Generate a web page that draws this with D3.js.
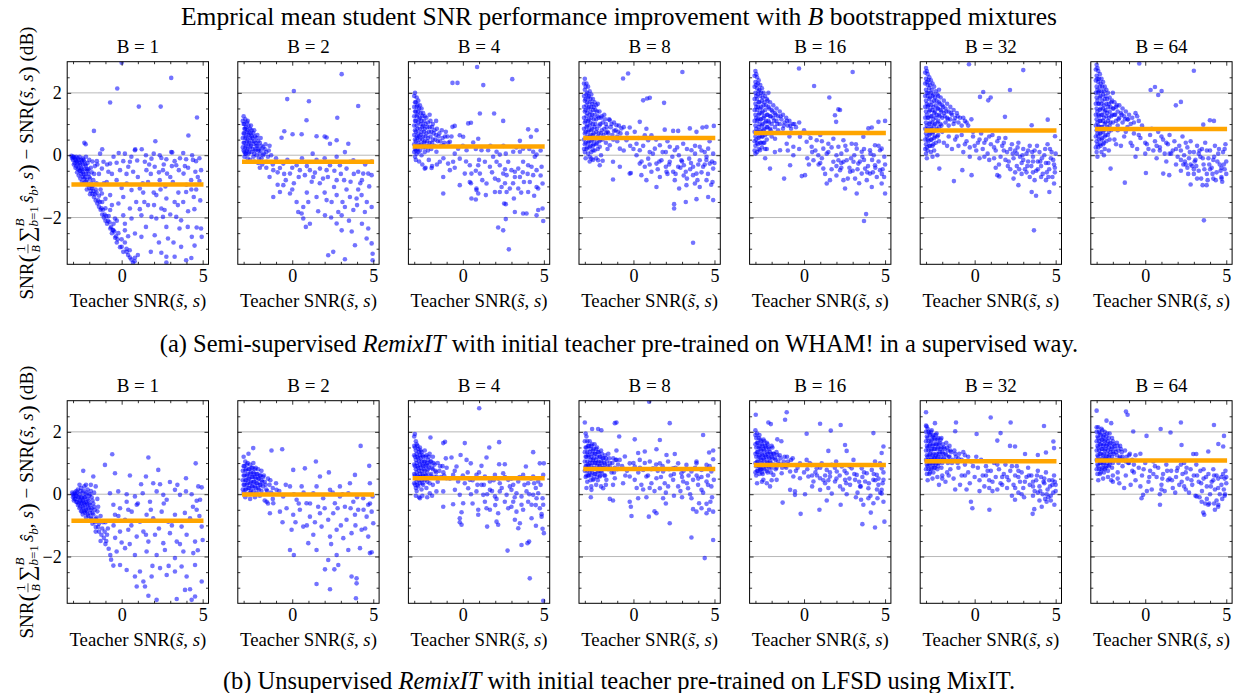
<!DOCTYPE html>
<html>
<head>
<meta charset="utf-8">
<script src="https://cdn.jsdelivr.net/npm/d3@7"></script>
<style>
body { margin: 0; background: #fff; }
svg { display: block; }
text { font-family: "Liberation Serif", "Times New Roman", serif; fill: #000; white-space: pre; }
</style>
</head>
<body>
<div id="chart"></div>
<script>
const bValues = [1, 2, 4, 8, 16, 32, 64];
const meanSemi = [-0.94, -0.21, 0.28, 0.55, 0.71, 0.79, 0.84];
const meanUnsup = [-0.85, -0.01, 0.51, 0.81, 0.94, 1.06, 1.08];
const yMajor = [-2, 0, 2];
const yMinor = [-3, -2.5, -1.5, -1, -0.5, 0.5, 1, 1.5, 2.5];
const xMajor = [0, 5];
const xMinor = [-3, -2, -1, 1, 2, 3, 4];
const lineSpan = [-3.1, 5.05];

// (a) semi-supervised, points as [teacher SNR, improvement]
const semi1 = [[-3.1,-0.02],[-3.0,-0.05],[-3.0,-0.15],[-2.9,-0.1],[-2.9,-0.25],[-2.8,-0.05],[-2.8,-0.2],[-2.8,-0.35],[-2.7,-0.1],[-2.7,-0.3],[-2.7,-0.45],[-2.6,-0.05],[-2.6,-0.25],[-2.6,-0.5],[-2.5,-0.15],[-2.5,-0.4],[-2.5,-0.6],[-2.4,-0.1],[-2.4,-0.3],[-2.4,-0.55],[-2.4,-0.7],[-2.3,-0.2],[-2.3,-0.45],[-2.3,-0.75],[-2.2,-0.05],[-2.2,-0.35],[-2.2,-0.6],[-2.2,-0.85],[-2.1,-0.25],[-2.1,-0.5],[-2.1,-0.95],[-2.0,-0.15],[-2.0,-0.7],[-2.0,-1.05],[-1.9,-0.4],[-1.9,-0.9],[-1.9,-1.15],[-1.8,-0.2],[-1.8,-1.0],[-1.8,-1.25],[-1.7,-0.6],[-1.7,-1.35],[-1.6,-1.1],[-1.6,-1.45],[-1.5,-0.3],[-1.5,-1.55],[-1.4,-1.3],[-1.4,-1.65],[-1.3,-1.75],[-1.2,-1.5],[-1.2,-1.9],[-1.1,-2.0],[-1.0,-1.7],[-1.0,-2.1],[-0.9,-2.2],[-0.8,-1.95],[-0.7,-2.35],[-0.6,-2.5],[-0.5,-2.2],[-0.4,-2.65],[-0.3,-2.8],[-0.2,-2.5],[-0.1,-2.95],[0.1,-3.1],[0.2,-2.8],[0.4,-3.2],[0.6,-3.35],[0.7,-3.45],[0.8,-3.4],[-2.95,-0.3],[-2.75,-0.55],[-2.55,-0.75],[-2.35,-0.9],[-2.15,-1.1],[-1.95,-1.25],[-2.65,-0.65],[-2.45,-0.85],[-1.75,-0.8],[-1.55,-0.9],[-1.65,-0.35],[-2.05,-0.45],
[-3.05,-0.1],[-2.95,-0.05],[-2.85,-0.15],[-2.85,-0.4],[-2.75,-0.2],[-2.65,-0.15],[-2.65,-0.4],[-2.55,-0.3],[-2.55,-0.5],[-2.45,-0.2],[-2.45,-0.45],[-2.35,-0.15],[-2.35,-0.6],[-2.25,-0.3],[-2.25,-0.7],[-2.15,-0.45],[-2.15,-0.8],[-2.05,-0.6],[-2.05,-0.95],[-1.95,-0.75],[-1.85,-0.55],[-1.85,-1.05],[-1.75,-1.15],[-1.65,-1.25],[-1.55,-1.2],[-1.45,-1.45],[-1.35,-1.5],[-1.25,-1.7],[-1.15,-1.75],[-1.05,-1.9],[-0.95,-1.95],[-0.85,-2.1],[-0.75,-2.15],[-0.65,-2.3],[-0.55,-2.4],[-0.45,-2.45],[-0.35,-2.6],[-0.25,-2.7],[0.0,-2.7],[0.3,-3.0],[0.5,-3.05],[-1.3,-1.1],[-1.0,-1.4],[-0.6,-1.6],[-0.3,-2.1],[0.2,-2.2],[0.4,-2.6],[-1.4,-0.6],[-1.1,-0.9],[-0.9,-0.3],
[0.0,2.97],[3.06,2.48],[-0.27,2.14],[-0.71,1.69],[1.06,1.56],[2.41,1.56],[4.65,1.21],[-1.71,0.78],[4.12,0.63],[-2.3,0.4],[-2.22,0.35],[2.08,0.45],[-1.2,0.19],[0.84,0.19],[1.24,0.19],[-0.18,0.07],[3.06,0.1],[3.8,0.07],
[-1.33,0.05],[0.2,0.05],[0.82,0.16],[1.98,0.05],[2.35,0.0],[3.12,0.09],[4.35,0.0],[-1.53,-0.19],[-1.12,-0.21],[-0.71,-0.27],[-0.31,-0.24],[0.1,-0.19],[0.51,-0.21],[0.96,-0.17],[1.43,-0.21],[1.84,-0.11],[2.45,-0.09],[2.76,-0.13],[3.27,-0.19],[3.37,-0.32],[3.98,-0.13],[4.59,-0.19],[4.9,-0.48],[-1.22,-0.43],[-0.82,-0.53],[-0.1,-0.48],[0.41,-0.37],[0.71,-0.53],[1.53,-0.48],[2.04,-0.37],[2.55,-0.48],[2.8,-0.59],[3.53,-0.48],[3.82,-0.59],[4.55,-0.53],[-0.92,-0.86],[-0.31,-0.8],[0.31,-0.91],[1.12,-1.07],[1.63,-0.86],[2.35,-0.8],[3.16,-0.86],[4.29,-0.8],[4.8,-0.83],[-1.22,-1.23],[-0.71,-1.28],[0.1,-1.34],[0.61,-1.12],[1.33,-1.2],[1.98,-1.2],[2.14,-1.28],[2.76,-1.39],[3.27,-1.5],[3.98,-1.18],[4.45,-1.34],[-0.71,-1.76],[-0.2,-1.55],[0.51,-1.71],[1.12,-1.73],[1.63,-1.6],[2.45,-1.71],[2.65,-1.76],[3.47,-1.6],[4.49,-1.73],[-0.41,-2.03],[0.1,-1.93],[0.61,-2.03],[1.22,-1.93],[1.84,-1.98],[2.14,-2.03],[2.55,-1.98],[3.37,-1.98],[3.67,-2.09],[-0.51,-2.41],[0.2,-2.41],[0.82,-2.51],[1.22,-2.62],[2.04,-2.57],[2.76,-2.3],[2.86,-2.67],[3.57,-2.35],[4.08,-2.3],[4.33,-2.62],[4.63,-2.32],[4.9,-2.35],[4.94,-2.62],[0.0,-2.94],[0.31,-3.1],[0.51,-3.28],[0.82,-3.29],[2.45,-3.13],[2.76,-3.26],[3.27,-3.26],[3.67,-2.94],[3.98,-3.37],[4.3,-3.3],[2.76,-3.44],[-0.5,-0.05],[0.6,-0.05],[1.5,0.0],[2.6,-0.3],[3.6,-0.1],[4.1,-0.4],[4.8,-0.1],[-0.6,-0.6],[1.0,-0.7],[1.8,-0.6],[3.0,-0.7],[4.0,-0.95],[0.0,-1.05],[1.4,-1.5],[2.4,-1.1],[3.5,-1.2],[4.85,-1.45],[4.3,-1.1],
[0.3,-0.6],[1.7,-0.3],[2.3,-0.55],[3.1,-0.35],[3.9,-0.35],[4.4,-0.15],[4.7,-0.7],[1.3,-0.9],[2.7,-1.0],[3.8,-1.5],[4.6,-1.1],[0.9,-1.5],[2.0,-1.6],[3.0,-1.9],[4.1,-1.8],[1.5,-2.3],[2.3,-2.8],[3.2,-2.8],[4.5,-2.9],[1.0,-3.2],[1.8,-3.1]];

const semi2 = [[-3.0,1.25],[-3.0,1.0],[-3.0,0.7],[-3.0,0.4],[-3.0,0.15],[-2.9,1.15],[-2.9,0.85],[-2.9,0.55],[-2.9,0.25],[-2.9,0.05],[-2.8,1.05],[-2.8,0.75],[-2.8,0.45],[-2.8,0.15],[-2.7,0.95],[-2.7,0.65],[-2.7,0.35],[-2.7,0.05],[-2.6,0.85],[-2.6,0.55],[-2.6,0.25],[-2.5,0.8],[-2.5,0.45],[-2.5,0.1],[-2.4,0.7],[-2.4,0.35],[-2.4,-0.05],[-2.3,0.6],[-2.3,0.2],[-2.2,0.55],[-2.2,0.3],[-2.2,0.0],[-2.1,0.45],[-2.1,0.15],[-2.0,0.4],[-2.0,0.05],[-1.9,0.3],[-1.9,-0.1],[-1.8,0.25],[-1.8,0.0],[-1.7,0.2],[-1.6,0.1],[-1.5,-0.05],[-1.4,0.3],[-1.3,0.0],[-2.95,-0.05],[-2.75,-0.1],[-2.6,-0.15],[-2.35,-0.2],[-2.1,-0.25],[-1.85,-0.3],[-2.5,0.6],[-2.65,0.7],[-2.85,0.6],[-2.95,0.85],
[-3.05,1.1],[-3.05,0.55],[-3.05,0.25],[-2.95,1.0],[-2.95,0.7],[-2.95,0.4],[-2.95,0.1],[-2.85,0.9],[-2.85,0.3],[-2.85,0.05],[-2.75,1.1],[-2.75,0.8],[-2.75,0.5],[-2.75,0.2],[-2.65,0.4],[-2.65,0.1],[-2.55,0.95],[-2.55,0.7],[-2.55,0.3],[-2.45,0.55],[-2.45,0.2],[-2.35,0.8],[-2.35,0.45],[-2.35,0.05],[-2.25,0.4],[-2.25,0.15],[-2.15,0.65],[-2.15,0.3],[-2.05,0.2],[-2.05,-0.1],[-1.95,0.55],[-1.95,0.15],[-1.75,0.05],[-1.65,0.35],[-1.45,0.15],[-1.2,-0.3],[-1.6,-0.4],[-2.0,-0.4],
[0.1,2.06],[-0.31,1.8],[1.03,1.73],[3.05,2.6],[4.07,1.58],[2.78,1.2],[0.88,1.12],[-0.49,0.77],[0.58,0.67],[0.02,0.67],[1.5,0.61],[2.0,0.6],[2.12,0.57],[2.74,0.48],[3.46,0.37],[-0.66,0.56],[1.26,0.05],[2.33,0.37],[3.25,0.1],
[-1.58,-0.21],[-1.17,-0.48],[-0.76,-0.41],[-0.55,-0.27],[-0.14,-0.59],[0.27,-0.32],[0.47,-0.48],[0.78,-0.64],[1.09,-0.48],[1.4,-0.56],[1.71,-0.43],[2.12,-0.48],[2.33,-0.32],[2.74,-0.8],[2.94,-0.32],[3.35,-0.43],[3.56,-0.21],[4.07,-0.53],[4.38,-0.59],[4.69,-0.59],[4.9,-0.64],[3.77,-0.16],[2.74,-0.05],[-1.0,-0.1],[-0.3,-0.15],[0.6,-0.1],[1.5,-0.15],[2.0,-0.1],[3.0,-0.6],[4.5,-0.3],[4.9,-0.2],[-1.4,-0.7],[-0.4,-0.8],[0.1,-0.9],[1.2,-0.85],[1.9,-0.75],[3.6,-0.85],[4.2,-0.9],
[-0.9,-0.55],[-0.5,-0.6],[0.0,-0.4],[0.4,-0.7],[0.9,-0.35],[1.3,-0.7],[1.7,-0.9],[2.2,-0.7],[2.6,-0.5],[3.2,-0.8],[3.8,-0.6],[4.3,-0.8],[4.75,-1.0],[-0.9,-0.95],[0.0,-1.1],[0.9,-1.2],[2.0,-1.2],[3.1,-1.5],[4.0,-1.6],[4.6,-1.5],[1.6,-1.8],[2.4,-2.0],[3.5,-2.1],[4.3,-2.2],
[-1.17,-1.34],[-0.76,-1.18],[-0.55,-0.96],[-0.14,-1.23],[0.27,-1.5],[0.37,-1.82],[0.58,-1.87],[0.68,-1.66],[0.99,-1.5],[1.5,-1.34],[2.12,-1.44],[2.43,-1.5],[2.74,-1.28],[2.84,-1.82],[3.05,-1.93],[3.25,-1.66],[3.56,-1.34],[3.77,-1.76],[3.97,-1.39],[4.07,-1.1],[4.28,-1.28],[4.48,-1.82],[4.9,-1.66],[3.35,-1.1],[2.58,-1.02],
[0.68,-2.03],[0.84,-2.3],[1.09,-2.2],[2.02,-1.93],[2.22,-3.21],[2.53,-3.1],[2.74,-2.19],[3.05,-2.41],[3.25,-3.34],[3.87,-2.89],[4.59,-2.67],[4.69,-2.35],[4.9,-2.83],[4.96,-3.16],[4.96,-3.37],[3.67,-2.45]];

const semi3 = [[-2.95,2.0],[-2.95,1.7],[-2.95,1.4],[-2.95,1.1],[-2.95,0.8],[-2.95,0.5],[-2.95,0.2],[-2.95,-0.05],[-2.85,1.85],[-2.85,1.55],[-2.85,1.25],[-2.85,0.95],[-2.85,0.6],[-2.85,0.3],[-2.85,0.05],[-2.75,1.75],[-2.75,1.4],[-2.75,1.05],[-2.75,0.7],[-2.75,0.4],[-2.75,0.1],[-2.65,1.6],[-2.65,1.2],[-2.65,0.85],[-2.65,0.5],[-2.65,0.15],[-2.55,1.5],[-2.55,1.1],[-2.55,0.75],[-2.55,0.35],[-2.55,0.0],[-2.45,1.35],[-2.45,0.95],[-2.45,0.6],[-2.45,0.25],[-2.35,1.25],[-2.35,0.85],[-2.35,0.45],[-2.35,0.1],[-2.25,1.2],[-2.25,0.7],[-2.25,0.3],[-2.15,1.05],[-2.15,0.55],[-2.15,0.15],[-2.05,1.3],[-2.05,0.9],[-2.05,0.4],[-1.95,0.75],[-1.95,0.2],[-1.85,1.0],[-1.85,0.5],[-1.75,0.8],[-1.75,0.3],[-1.65,0.65],[-1.65,1.1],[-1.55,0.45],[-1.45,0.7],[-1.35,0.3],[-1.25,0.55],[-1.15,0.4],[-1.05,0.75],[-0.95,0.6],[-2.9,-0.15],[-2.7,-0.2],[-2.5,-0.3],[-2.3,-0.4],[-2.1,-0.15],[-1.9,-0.35],
[-3.0,1.9],[-3.0,1.55],[-3.0,1.25],[-3.0,0.95],[-3.0,0.65],[-3.0,0.35],[-3.0,0.1],[-2.9,1.7],[-2.9,1.4],[-2.9,1.1],[-2.9,0.75],[-2.9,0.45],[-2.9,0.15],[-2.8,1.6],[-2.8,1.3],[-2.8,0.85],[-2.8,0.55],[-2.8,0.2],[-2.7,1.5],[-2.7,1.15],[-2.7,0.6],[-2.7,0.3],[-2.6,1.35],[-2.6,1.0],[-2.6,0.65],[-2.6,0.3],[-2.5,1.25],[-2.5,0.9],[-2.5,0.5],[-2.4,1.1],[-2.4,0.75],[-2.4,0.4],[-2.3,1.0],[-2.3,0.6],[-2.3,0.25],[-2.2,0.9],[-2.2,0.45],[-2.1,0.75],[-2.1,0.3],[-2.0,1.1],[-2.0,0.6],[-1.9,0.9],[-1.9,0.4],[-1.8,0.7],[-1.7,0.5],[-1.6,0.85],[-1.5,0.6],[-1.4,0.45],[-1.3,0.8],[-1.1,0.6],[-0.9,0.4],[-0.7,0.6],
[0.88,2.83],[-0.64,2.32],[-0.33,2.32],[1.26,2.25],[3.05,2.44],[1.05,1.34],[1.93,1.34],[2.49,1.1],[-0.64,0.91],[-0.5,0.94],[0.33,1.02],[0.5,1.04],[4.03,0.83],[4.2,0.59],[4.55,0.8],[3.52,0.46],[-0.19,0.64],[0.02,0.59],
[-1.63,0.11],[-1.21,0.32],[-0.8,0.43],[-0.29,0.21],[0.23,0.16],[0.64,0.41],[0.95,0.53],[1.15,0.16],[1.56,0.16],[2.08,0.11],[2.28,0.02],[2.65,0.05],[3.11,0.11],[3.52,0.11],[3.72,0.21],[4.34,0.11],[4.55,0.02],
[-2.35,-0.43],[-1.93,-0.41],[-1.42,-0.21],[-0.91,-0.27],[-0.8,-0.48],[-0.6,-0.21],[-0.19,-0.11],[0.12,-0.59],[0.43,-0.32],[0.53,-0.59],[0.95,-0.32],[1.05,-0.59],[1.36,-0.21],[1.67,-0.37],[1.87,-0.05],[2.08,-0.21],[2.28,-0.32],[2.49,-0.59],[2.8,-0.21],[3.0,-0.48],[3.21,-0.53],[3.42,-0.43],[3.72,-0.21],[4.03,-0.32],[4.24,-0.37],[4.44,-0.05],[4.55,-0.48],[4.86,-0.37],
[-1.6,-0.3],[-1.2,-0.1],[-0.5,-0.4],[0.2,-0.2],[0.8,-0.5],[1.2,-0.8],[1.8,-0.55],[2.2,-0.8],[2.6,-0.9],[3.1,-0.9],[3.6,-1.2],[4.0,-0.6],[4.4,-1.3],[4.8,-0.65],[0.0,0.3],[0.8,0.2],[1.7,0.3],[2.5,0.3],[3.3,0.25],[4.1,0.2],[4.8,0.15],[-0.5,0.05],[1.0,-0.15],[2.6,-0.45],[3.7,-0.55],
[-1.21,-0.7],[-0.19,-0.96],[0.43,-0.86],[0.84,-1.07],[0.5,-0.9],[1.46,-0.91],[1.98,-0.75],[2.39,-1.02],[2.7,-0.64],[2.9,-1.07],[3.21,-0.7],[3.52,-0.7],[3.77,-0.86],[4.13,-0.86],[4.55,-1.02],[4.92,-0.91],[4.34,-0.64],
[-1.21,-1.23],[0.84,-1.12],[0.95,-1.23],[1.42,-1.28],[1.98,-1.18],[2.28,-1.18],[2.7,-1.18],[3.15,-1.39],[0.53,-1.39],[0.8,-1.42],[2.55,-1.55],[2.65,-1.57],[3.42,-1.07],[4.03,-1.18],[4.65,-1.07],[3.21,-1.82],[3.72,-1.87],[3.93,-1.87],[2.65,-2.05],[4.65,-1.76],[4.92,-1.71],[4.55,-1.93],[4.96,-2.11],[2.18,-2.32],[2.49,-2.41],[2.84,-3.02]];

const semi4 = [[-3.0,2.45],[-3.0,2.1],[-3.0,1.75],[-3.0,1.4],[-3.0,1.05],[-3.0,0.7],[-3.0,0.35],[-3.0,0.1],[-2.9,2.3],[-2.9,1.95],[-2.9,1.6],[-2.9,1.25],[-2.9,0.9],[-2.9,0.55],[-2.9,0.2],[-2.8,2.2],[-2.8,1.85],[-2.8,1.5],[-2.8,1.1],[-2.8,0.75],[-2.8,0.4],[-2.8,0.05],[-2.7,2.05],[-2.7,1.7],[-2.7,1.3],[-2.7,0.95],[-2.7,0.6],[-2.7,0.25],[-2.6,1.95],[-2.6,1.55],[-2.6,1.2],[-2.6,0.8],[-2.6,0.45],[-2.6,0.1],[-2.5,1.8],[-2.5,1.45],[-2.5,1.0],[-2.5,0.65],[-2.5,0.3],[-2.4,1.7],[-2.4,1.3],[-2.4,0.9],[-2.4,0.5],[-2.4,0.15],[-2.3,1.6],[-2.3,1.15],[-2.3,0.75],[-2.3,0.35],[-2.2,1.65],[-2.2,1.25],[-2.2,0.6],[-2.2,0.2],[-2.1,1.4],[-2.1,0.95],[-2.1,0.45],[-2.0,1.2],[-2.0,0.7],[-1.9,1.05],[-1.9,0.5],[-1.8,1.3],[-1.8,0.85],[-1.7,1.0],[-1.7,0.4],[-1.6,0.75],[-1.5,1.15],[-1.5,0.55],[-1.4,0.9],[-1.3,0.65],[-1.2,1.05],[-1.1,0.8],[-1.0,0.6],[-0.9,0.95],[-0.8,0.7],[-2.95,-0.1],[-2.7,-0.05],[-2.5,-0.15],[-2.3,-0.1],
[-3.05,2.3],[-3.05,1.9],[-3.05,1.55],[-3.05,1.2],[-3.05,0.85],[-3.05,0.5],[-3.05,0.2],[-2.95,2.2],[-2.95,1.8],[-2.95,1.45],[-2.95,1.1],[-2.95,0.75],[-2.95,0.4],[-2.85,2.0],[-2.85,1.7],[-2.85,1.35],[-2.85,0.95],[-2.85,0.6],[-2.85,0.25],[-2.75,1.9],[-2.75,1.55],[-2.75,1.15],[-2.75,0.8],[-2.75,0.45],[-2.65,1.8],[-2.65,1.4],[-2.65,1.05],[-2.65,0.65],[-2.65,0.3],[-2.55,1.65],[-2.55,1.3],[-2.55,0.85],[-2.55,0.5],[-2.45,1.55],[-2.45,1.15],[-2.45,0.7],[-2.45,0.35],[-2.35,1.45],[-2.35,1.0],[-2.35,0.55],[-2.25,1.4],[-2.25,0.85],[-2.25,0.4],[-2.15,1.2],[-2.15,0.7],[-2.05,1.0],[-2.05,0.5],[-1.95,1.25],[-1.95,0.8],[-1.85,0.65],[-1.75,1.15],[-1.65,0.9],[-1.55,0.7],[-1.35,1.0],[-1.25,0.5],[-0.95,0.75],[-0.6,0.9],[-0.4,0.7],
[-0.64,2.46],[-0.33,2.62],[3.02,2.67],[0.6,1.76],[0.84,1.82],[1.01,1.84],[1.89,1.68],[0.39,1.07],[1.93,0.82],[2.45,0.78],[2.76,0.78],[3.48,0.86],[4.26,0.89],[4.51,0.91],[4.96,0.94],[3.89,0.75],
[-2.49,0.16],[-2.08,0.27],[-1.46,0.32],[-0.84,0.21],[-0.43,0.48],[0.19,0.37],[0.39,0.16],[0.91,0.48],[1.32,0.21],[1.63,0.32],[2.24,0.27],[2.55,0.16],[3.07,0.37],[3.58,0.16],[4.09,0.27],[4.61,0.21],[4.92,0.05],[-1.46,1.12],[-1.05,0.96],[-0.74,0.86],[-0.23,0.89],[0.08,0.75],[0.7,0.64],[1.11,0.64],[-1.2,0.78],[-1.7,0.72],
[-2.59,-0.11],[-2.08,-0.32],[-1.9,-0.18],[-1.26,-0.21],[-0.84,-0.37],[-0.23,-0.59],[0.19,0.0],[0.39,-0.27],[0.7,-0.37],[0.91,-0.11],[1.11,-0.53],[1.42,-0.27],[1.73,-0.16],[2.0,-0.37],[2.24,-0.21],[2.45,-0.53],[2.76,-0.37],[2.96,-0.16],[3.11,-0.32],[3.23,-0.53],[3.44,-0.11],[3.68,-0.37],[3.89,-0.59],[4.09,-0.16],[4.3,-0.37],[4.51,-0.05],[4.71,-0.27],[4.92,-0.43],[0.49,-0.64],[0.8,-0.8],[1.42,-1.02],[-1.26,-0.78],[-0.16,-0.57],[1.63,-0.7],[2.04,-0.53],[2.55,-0.8],[2.82,-1.07],[3.27,-0.96],[3.68,-0.64],[3.79,-0.91],[4.09,-1.02],[4.51,-0.8],[4.88,-0.86],[4.92,-1.44],[4.61,-1.34],[3.89,-1.41],[3.23,-1.5],[2.51,-1.57],[2.51,-1.71],[3.68,-2.81],[-2.7,-0.2],[-2.18,-0.16],
[0.5,-0.2],[1.0,-0.3],[1.5,-0.45],[2.1,-0.6],[2.6,-0.6],[2.9,-0.4],[3.3,-0.75],[3.55,-0.25],[3.95,-0.8],[4.2,-0.55],[4.4,-0.3],[4.6,-0.6],[4.8,-0.95],[5.0,-0.25],[1.2,0.05],[2.0,0.1],[2.8,0.0],[3.8,0.05],[4.4,0.1],[0.0,0.2],[-0.6,0.15]];
const semi4Band = [[0.3,0.55],[0.6,0.3],[1.0,0.1],[1.4,0.5],[1.8,0.1],[2.1,0.45],[2.4,-0.05],[2.7,0.25],[3.0,-0.2],[3.3,0.2],[3.5,-0.45],[3.8,0.3],[4.0,-0.3],[4.2,0.15],[4.5,-0.15],[4.7,0.45],[4.85,-0.2],[2.2,-0.3],[3.1,-0.65],[1.6,-0.2],[-0.2,0.3],[-1.0,0.45],[-1.6,0.2],[-2.0,0.0],[0.8,0.85]];

const semi5 = [[-3.0,2.7],[-3.0,2.35],[-3.0,2.0],[-3.0,1.65],[-3.0,1.3],[-3.0,0.95],[-3.0,0.6],[-3.0,0.3],[-3.0,0.05],[-2.9,2.5],[-2.9,2.15],[-2.9,1.8],[-2.9,1.45],[-2.9,1.1],[-2.9,0.75],[-2.9,0.4],[-2.9,0.1],[-2.8,2.4],[-2.8,2.05],[-2.8,1.7],[-2.8,1.3],[-2.8,0.9],[-2.8,0.55],[-2.8,0.2],[-2.7,2.25],[-2.7,1.9],[-2.7,1.5],[-2.7,1.15],[-2.7,0.8],[-2.7,0.4],[-2.6,2.15],[-2.6,1.75],[-2.6,1.35],[-2.6,0.95],[-2.6,0.6],[-2.6,0.25],[-2.5,2.0],[-2.5,1.6],[-2.5,1.2],[-2.5,0.8],[-2.5,0.4],[-2.4,1.9],[-2.4,1.45],[-2.4,1.05],[-2.4,0.65],[-2.4,0.2],[-2.3,1.8],[-2.3,1.3],[-2.3,0.9],[-2.3,0.5],[-2.2,2.0],[-2.2,1.55],[-2.2,1.1],[-2.2,0.7],[-2.1,1.7],[-2.1,1.25],[-2.1,0.85],[-2.0,1.45],[-2.0,1.0],[-2.0,0.6],[-1.9,1.6],[-1.9,1.2],[-1.8,1.35],[-1.8,0.9],[-1.7,1.5],[-1.7,1.1],[-1.6,1.25],[-1.6,0.8],[-1.5,1.4],[-1.5,1.0],[-1.4,1.15],[-1.3,1.3],[-1.3,0.85],[-1.2,1.05],[-1.1,1.2],[-1.0,0.95],[-0.9,1.1],[-0.8,0.85],[-0.7,1.0],[-0.5,0.9],[-0.3,1.05],
[-3.05,2.55],[-3.05,2.2],[-3.05,1.8],[-3.05,1.45],[-3.05,1.1],[-3.05,0.75],[-3.05,0.45],[-3.05,0.15],[-2.95,2.6],[-2.95,2.25],[-2.95,1.9],[-2.95,1.55],[-2.95,1.2],[-2.95,0.85],[-2.95,0.5],[-2.85,2.3],[-2.85,1.95],[-2.85,1.55],[-2.85,1.15],[-2.85,0.75],[-2.85,0.35],[-2.75,2.1],[-2.75,1.7],[-2.75,1.35],[-2.75,1.0],[-2.75,0.6],[-2.65,2.0],[-2.65,1.55],[-2.65,1.15],[-2.65,0.75],[-2.65,0.4],[-2.55,1.85],[-2.55,1.4],[-2.55,1.0],[-2.55,0.6],[-2.45,1.7],[-2.45,1.25],[-2.45,0.85],[-2.45,0.4],[-2.35,1.6],[-2.35,1.1],[-2.35,0.7],[-2.25,1.75],[-2.25,1.3],[-2.25,0.9],[-2.15,1.5],[-2.15,1.05],[-2.05,1.25],[-2.05,0.8],[-1.95,1.4],[-1.85,1.1],[-1.75,1.3],[-1.65,1.0],[-1.45,1.25],[-1.25,0.95],[-1.05,1.1],[-0.85,0.95],[-0.6,1.0],
[-0.31,2.78],[0.62,2.22],[3.0,2.67],[1.56,1.85],[2.12,1.47],[2.22,1.45],[1.98,1.07],[1.91,1.28],[3.97,0.86],[4.18,0.89],[4.59,1.07],[5.0,1.1],[3.66,0.59],[4.79,0.21],
[-2.72,0.16],[-2.3,0.2],[-1.79,0.53],[-1.48,0.16],[-1.07,0.37],[-0.66,0.27],[-0.25,0.59],[0.16,0.43],[0.47,0.27],[0.78,0.48],[1.19,0.21],[1.5,0.37],[1.81,0.53],[2.12,0.27],[2.43,0.48],[2.63,0.16],[2.94,0.37],[3.25,0.21],[3.56,0.11],[4.07,0.16],[4.38,0.32],[4.69,0.16],[0.3,0.7],[1.0,0.65],[-0.9,0.6],
[-2.1,-0.43],[-0.86,-0.32],[-0.66,0.0],[-0.14,-0.67],[0.06,-0.64],[0.58,-0.16],[0.88,0.0],[1.19,-0.43],[1.4,-0.91],[1.6,-0.8],[1.81,-0.21],[2.12,-0.16],[2.43,-0.21],[2.43,-0.8],[2.63,-0.16],[2.84,-0.53],[3.05,-0.21],[3.15,-0.75],[3.25,-1.23],[3.35,-0.27],[3.56,-0.59],[3.77,-0.43],[3.87,-0.8],[4.07,-0.59],[4.18,-1.02],[4.38,-0.32],[4.49,-0.7],[4.69,-0.48],[4.79,-0.91],[4.94,-0.7],[5.0,-1.23],[2.53,-1.07],[-1.23,-0.75],[3.83,-1.89],[3.7,-2.11],[2.8,-0.4],[2.22,-0.48],[1.0,-0.25],[0.3,-0.3],[3.6,-0.05],[4.2,-0.15],
[0.2,-0.1],[0.9,-0.3],[1.3,-0.6],[1.7,-0.45],[2.0,-0.65],[2.3,-0.4],[2.7,-0.75],[3.0,-0.5],[3.4,-0.9],[3.7,-0.15],[3.95,-0.35],[4.25,-0.55],[4.6,-0.2],[4.85,-0.45],[3.3,-0.45],[1.5,0.1],[2.3,0.05],[3.1,0.0],[4.3,0.0],[4.95,-0.05],[0.5,0.1]];
const semi5Band = [[0.0,0.8],[0.4,0.55],[0.7,0.15],[1.1,0.45],[1.4,0.05],[1.7,0.25],[2.0,0.0],[2.3,-0.25],[2.55,0.3],[2.9,-0.1],[3.2,0.35],[3.45,-0.2],[3.7,0.2],[3.9,-0.55],[4.1,0.05],[4.4,-0.4],[4.6,0.3],[4.8,-0.6],[5.0,-0.3],[2.0,-0.35],[1.1,-0.1],[-0.3,0.2],[-1.0,0.15],[-1.8,0.1],[-2.4,-0.1]];

const semi6 = [[-3.0,2.8],[-3.0,2.45],[-3.0,2.1],[-3.0,1.75],[-3.0,1.4],[-3.0,1.05],[-3.0,0.7],[-3.0,0.35],[-3.0,0.05],[-2.9,2.6],[-2.9,2.25],[-2.9,1.9],[-2.9,1.55],[-2.9,1.2],[-2.9,0.85],[-2.9,0.5],[-2.9,0.15],[-2.8,2.5],[-2.8,2.15],[-2.8,1.8],[-2.8,1.4],[-2.8,1.0],[-2.8,0.65],[-2.8,0.3],[-2.7,2.4],[-2.7,2.0],[-2.7,1.6],[-2.7,1.25],[-2.7,0.9],[-2.7,0.5],[-2.7,0.1],[-2.6,2.3],[-2.6,1.9],[-2.6,1.45],[-2.6,1.05],[-2.6,0.7],[-2.6,0.3],[-2.5,2.2],[-2.5,1.75],[-2.5,1.35],[-2.5,0.95],[-2.5,0.55],[-2.5,0.15],[-2.4,2.05],[-2.4,1.6],[-2.4,1.2],[-2.4,0.8],[-2.4,0.4],[-2.3,1.95],[-2.3,1.5],[-2.3,1.05],[-2.3,0.6],[-2.2,2.1],[-2.2,1.7],[-2.2,1.3],[-2.2,0.9],[-2.2,0.45],[-2.1,1.85],[-2.1,1.45],[-2.1,1.0],[-2.0,1.6],[-2.0,1.2],[-2.0,0.75],[-1.9,1.75],[-1.9,1.35],[-1.8,1.5],[-1.8,1.05],[-1.7,1.65],[-1.7,1.2],[-1.6,1.4],[-1.6,0.95],[-1.5,1.55],[-1.5,1.15],[-1.4,1.3],[-1.3,1.45],[-1.3,1.0],[-1.2,1.2],[-1.1,1.35],[-1.0,1.05],[-0.9,1.2],[-0.8,0.95],[-0.6,1.1],[-0.4,0.95],[-0.2,1.15],[-2.95,-0.1],[-2.6,-0.05],[-2.3,0.0],
[-3.05,2.65],[-3.05,2.3],[-3.05,1.9],[-3.05,1.55],[-3.05,1.2],[-3.05,0.85],[-3.05,0.5],[-3.05,0.2],[-2.95,2.7],[-2.95,2.35],[-2.95,2.0],[-2.95,1.65],[-2.95,1.3],[-2.95,0.95],[-2.95,0.6],[-2.95,0.25],[-2.85,2.4],[-2.85,2.0],[-2.85,1.6],[-2.85,1.2],[-2.85,0.8],[-2.85,0.45],[-2.75,2.25],[-2.75,1.85],[-2.75,1.45],[-2.75,1.05],[-2.75,0.7],[-2.75,0.3],[-2.65,2.1],[-2.65,1.7],[-2.65,1.25],[-2.65,0.85],[-2.65,0.5],[-2.55,1.95],[-2.55,1.55],[-2.55,1.15],[-2.55,0.75],[-2.55,0.35],[-2.45,1.85],[-2.45,1.4],[-2.45,1.0],[-2.45,0.6],[-2.35,1.75],[-2.35,1.3],[-2.35,0.85],[-2.25,1.9],[-2.25,1.5],[-2.25,1.1],[-2.25,0.65],[-2.15,1.65],[-2.15,1.25],[-2.05,1.4],[-2.05,0.95],[-1.95,1.55],[-1.85,1.25],[-1.75,1.4],[-1.65,1.15],[-1.45,1.35],[-1.25,1.1],[-1.05,1.25],[-0.7,1.2],[-0.5,1.05],
[-0.35,2.92],[3.0,2.73],[0.53,2.03],[0.33,1.87],[2.18,2.09],[0.84,1.76],[0.99,1.85],[1.87,1.23],[3.52,0.96],[4.51,1.14],[4.96,0.61],
[-2.18,-0.43],[-0.76,-0.48],[-1.28,-0.83],[-0.19,-0.64],[1.4,-0.64],[1.52,-0.68],[2.7,-0.96],[3.52,-1.18],[3.79,-1.3],[4.61,-1.18],[4.9,-0.91],[3.66,-2.41],
[-1.9,0.4],[-1.6,0.6],[-1.4,0.2],[-1.2,0.5],[-1.0,0.3],[-0.8,0.65],[-0.7,0.1],[-0.5,0.45],[-0.3,0.25],[-0.1,0.6],[0.1,0.15],[0.2,0.4],[0.4,0.7],[0.5,0.2],[0.7,0.5],[0.8,0.05],[1.0,0.35],[1.1,0.65],[1.3,0.15],[1.4,0.45],[1.6,-0.05],[1.7,0.3],[1.9,0.55],[2.0,0.1],[2.1,-0.2],[2.3,0.35],[2.4,-0.1],[2.5,0.15],[2.6,-0.35],[2.7,0.4],[2.8,-0.05],[2.9,-0.25],[3.0,0.2],[3.1,-0.45],[3.2,0.05],[3.3,-0.2],[3.4,0.3],[3.5,-0.35],[3.6,-0.05],[3.7,0.15],[3.8,-0.5],[3.9,-0.2],[4.0,0.1],[4.1,-0.35],[4.2,-0.6],[4.3,0.0],[4.4,-0.25],[4.5,0.35],[4.6,-0.45],[4.7,-0.1],[4.8,-0.7],[4.9,-0.3],[5.0,0.05],[4.95,-0.55],[3.4,-0.7],[2.9,-0.6],[2.2,-0.45],[1.5,-0.3],[0.9,-0.15],[0.3,-0.1],[-0.3,-0.05],[4.4,-0.8],[3.7,-0.8],[2.4,-0.75],
[0.0,0.3],[0.6,0.4],[1.2,0.25],[1.8,0.15],[2.2,0.2],[2.6,0.05],[3.0,-0.15],[3.3,0.15],[3.6,-0.2],[3.9,-0.45],[4.15,-0.1],[4.45,-0.55],[4.65,0.2],[4.85,-0.15],[2.75,-0.45],[3.2,-0.55],[1.9,-0.15],[4.1,-0.7],[4.55,-0.7]];
const semi6Band = [[-1.7,0.3],[-1.1,0.6],[-0.6,0.35],[-0.1,0.75],[0.3,0.5],[0.6,-0.05],[0.9,0.6],[1.2,-0.1],[1.5,0.55],[1.8,0.4],[2.05,-0.35],[2.35,0.05],[2.65,0.25],[2.95,0.0],[3.25,-0.35],[3.55,0.1],[3.85,0.3],[4.05,-0.2],[4.35,0.2],[4.55,-0.25],[4.75,0.1],[4.95,-0.4],[3.6,-0.55],[2.5,-0.55],[1.3,-0.4]];

const semi7 = [[-3.0,2.9],[-3.0,2.55],[-3.0,2.2],[-3.0,1.85],[-3.0,1.5],[-3.0,1.15],[-3.0,0.8],[-3.0,0.45],[-3.0,0.1],[-2.9,2.7],[-2.9,2.35],[-2.9,2.0],[-2.9,1.65],[-2.9,1.3],[-2.9,0.95],[-2.9,0.6],[-2.9,0.25],[-2.8,2.6],[-2.8,2.2],[-2.8,1.85],[-2.8,1.45],[-2.8,1.1],[-2.8,0.7],[-2.8,0.35],[-2.7,2.45],[-2.7,2.05],[-2.7,1.65],[-2.7,1.3],[-2.7,0.9],[-2.7,0.5],[-2.7,0.1],[-2.6,2.35],[-2.6,1.95],[-2.6,1.5],[-2.6,1.1],[-2.6,0.75],[-2.6,0.35],[-2.5,2.2],[-2.5,1.8],[-2.5,1.4],[-2.5,1.0],[-2.5,0.6],[-2.5,0.2],[-2.4,2.1],[-2.4,1.65],[-2.4,1.25],[-2.4,0.85],[-2.4,0.45],[-2.3,2.0],[-2.3,1.55],[-2.3,1.1],[-2.3,0.65],[-2.2,1.85],[-2.2,1.4],[-2.2,0.95],[-2.2,0.5],[-2.1,1.7],[-2.1,1.25],[-2.1,0.8],[-2.0,2.0],[-2.0,1.5],[-2.0,1.05],[-1.9,1.7],[-1.9,1.3],[-1.8,1.55],[-1.8,1.1],[-1.7,1.4],[-1.7,0.95],[-1.6,1.6],[-1.6,1.2],[-1.5,1.35],[-1.4,1.5],[-1.4,1.05],[-1.3,1.25],[-1.2,1.4],[-1.1,1.15],[-1.0,1.3],[-0.9,1.0],[-0.8,1.2],[-0.6,1.35],[-0.4,1.1],[-0.2,0.95],[-2.95,-0.05],[-2.55,0.0],[-2.25,0.15],
[-3.05,2.75],[-3.05,2.4],[-3.05,2.0],[-3.05,1.65],[-3.05,1.3],[-3.05,0.95],[-3.05,0.6],[-3.05,0.25],[-2.95,2.8],[-2.95,2.45],[-2.95,2.1],[-2.95,1.75],[-2.95,1.4],[-2.95,1.05],[-2.95,0.7],[-2.95,0.35],[-2.85,2.45],[-2.85,2.05],[-2.85,1.65],[-2.85,1.25],[-2.85,0.9],[-2.85,0.5],[-2.75,2.3],[-2.75,1.9],[-2.75,1.5],[-2.75,1.1],[-2.75,0.7],[-2.75,0.3],[-2.65,2.2],[-2.65,1.75],[-2.65,1.3],[-2.65,0.9],[-2.65,0.55],[-2.55,2.05],[-2.55,1.6],[-2.55,1.2],[-2.55,0.8],[-2.55,0.4],[-2.45,1.9],[-2.45,1.45],[-2.45,1.05],[-2.45,0.65],[-2.35,1.8],[-2.35,1.35],[-2.35,0.9],[-2.25,1.65],[-2.25,1.2],[-2.25,0.75],[-2.15,1.55],[-2.15,1.05],[-2.05,1.75],[-2.05,1.3],[-1.95,1.5],[-1.85,1.3],[-1.75,1.6],[-1.65,1.15],[-1.45,1.3],[-1.25,1.15],[-1.05,1.15],[-0.7,1.05],[-0.5,1.25],
[-0.37,2.94],[3.0,2.71],[0.6,2.19],[1.01,2.06],[0.33,2.09],[0.8,1.93],[2.2,1.71],[1.89,1.6],[3.58,0.98],[3.99,1.12],[4.24,1.1],[3.62,-2.09],[-2.14,-0.43],[-1.26,-0.88],[0.04,-0.57],[1.11,-0.59],[1.48,-0.64],[2.8,-0.94],[3.54,-0.96],[3.79,-0.96],[4.71,-0.75],
[-1.9,0.5],[-1.7,0.8],[-1.5,0.3],[-1.3,0.6],[-1.1,0.9],[-0.9,0.4],[-0.7,0.7],[-0.5,0.2],[-0.3,0.55],[-0.1,0.85],[0.1,0.35],[0.3,0.65],[0.5,0.15],[0.6,0.45],[0.8,0.75],[0.9,0.25],[1.1,0.5],[1.2,0.05],[1.4,0.35],[1.5,0.65],[1.7,0.15],[1.8,0.45],[2.0,-0.05],[2.1,0.3],[2.3,0.6],[2.4,0.0],[2.5,-0.3],[2.6,0.25],[2.7,-0.1],[2.8,0.45],[2.9,-0.35],[3.0,0.1],[3.1,-0.15],[3.2,0.3],[3.3,-0.5],[3.4,-0.05],[3.5,0.2],[3.6,-0.3],[3.7,0.4],[3.8,-0.6],[3.9,-0.1],[4.0,0.15],[4.1,-0.4],[4.2,-0.15],[4.3,0.3],[4.4,-0.55],[4.5,0.05],[4.6,-0.3],[4.7,-0.7],[4.8,0.1],[4.9,-0.45],[5.0,-0.2],[4.95,0.35],[4.75,-0.85],[4.2,-0.75],[3.45,-0.75],[2.65,-0.6],[1.9,-0.3],[1.3,-0.2],[0.7,-0.1],[0.0,0.05],[-0.6,-0.05],[2.2,-0.5],[3.0,-0.6],
[0.2,0.2],[0.9,0.15],[1.5,0.05],[2.2,0.15],[2.45,-0.2],[2.8,-0.3],[3.15,-0.35],[3.35,0.15],[3.65,-0.45],[3.95,-0.3],[4.15,-0.6],[4.45,-0.2],[4.65,-0.5],[4.85,-0.3],[5.0,-0.6],[3.0,-0.45],[2.35,-0.3],[4.35,-0.8],[3.85,-0.8]];
const semi7Band = [[-1.8,0.35],[-1.2,0.75],[-0.8,0.3],[-0.4,0.65],[0.0,0.4],[0.4,0.85],[0.7,0.3],[1.0,0.6],[1.3,0.4],[1.6,0.05],[1.9,0.2],[2.2,-0.15],[2.5,0.4],[2.75,0.1],[3.05,-0.2],[3.3,0.05],[3.55,-0.1],[3.8,0.15],[4.0,-0.45],[4.25,-0.05],[4.55,0.2],[4.7,-0.4],[4.9,0.2],[3.2,-0.75],[2.6,-0.4]];

// (b) unsupervised
const unsup1 = [[-3.0,0.0],[-3.0,-0.1],[-2.9,0.05],[-2.9,-0.15],[-2.8,-0.05],[-2.8,-0.25],[-2.8,0.1],[-2.7,-0.1],[-2.7,-0.35],[-2.7,0.15],[-2.6,0.0],[-2.6,-0.2],[-2.6,-0.45],[-2.5,-0.1],[-2.5,-0.3],[-2.5,-0.55],[-2.5,0.2],[-2.4,0.05],[-2.4,-0.2],[-2.4,-0.4],[-2.4,-0.65],[-2.3,-0.1],[-2.3,-0.3],[-2.3,-0.55],[-2.3,0.25],[-2.2,0.0],[-2.2,-0.25],[-2.2,-0.5],[-2.2,-0.75],[-2.1,0.15],[-2.1,-0.15],[-2.1,-0.4],[-2.1,-0.65],[-2.0,-0.05],[-2.0,-0.3],[-2.0,-0.85],[-1.9,0.1],[-1.9,-0.5],[-1.9,-0.75],[-1.8,-0.2],[-1.8,-0.6],[-1.8,-0.95],[-1.7,0.05],[-1.7,-0.4],[-1.6,-0.8],[-1.6,-1.05],[-1.5,-0.15],[-1.5,-0.55],[-1.4,-0.95],[-1.4,-1.2],[-1.3,-0.7],[-1.2,-1.1],[-1.1,-1.4],[-1.0,-0.9],[-1.0,-1.6],[-0.9,-1.3],[-0.8,-1.75],[-0.7,-1.95],[-0.65,-2.1],[-2.6,0.3],[-2.2,0.3],[-1.9,0.3],[-1.6,0.25],
[-3.05,0.05],[-2.95,-0.05],[-2.95,-0.2],[-2.85,0.0],[-2.85,-0.15],[-2.75,0.05],[-2.75,-0.25],[-2.65,-0.1],[-2.65,-0.3],[-2.55,0.1],[-2.55,-0.2],[-2.55,-0.4],[-2.45,-0.1],[-2.45,-0.3],[-2.45,-0.55],[-2.35,0.1],[-2.35,-0.2],[-2.35,-0.45],[-2.25,-0.1],[-2.25,-0.35],[-2.25,-0.6],[-2.15,0.05],[-2.15,-0.3],[-2.15,-0.55],[-2.05,-0.2],[-2.05,-0.45],[-2.05,-0.7],[-1.95,0.0],[-1.95,-0.35],[-1.95,-0.6],[-1.85,-0.1],[-1.85,-0.45],[-1.85,-0.8],[-1.75,-0.3],[-1.75,-0.65],[-1.65,-0.5],[-1.65,-0.9],[-1.55,-0.75],[-1.45,-0.4],[-1.45,-1.05],[-1.35,-0.85],[-1.25,-1.3],[-1.15,-0.9],[-1.05,-1.2],[-0.95,-1.5],[-0.85,-1.1],[-1.6,-1.2],[-1.3,-1.5],
[-0.58,1.28],[1.65,1.18],[4.57,0.99],[-1.03,0.94],[-2.37,0.75],[-1.75,0.57],[-0.41,0.67],[0.51,0.6],[1.5,0.57],[2.26,0.78],[3.97,0.51],[4.73,0.25],[4.94,0.22],[3.44,0.3],[2.98,0.39],[2.37,0.32],[1.95,0.35],[1.2,0.32],
[-0.72,0.03],[-0.21,0.09],[0.31,0.0],[0.82,-0.07],[1.3,0.03],[1.75,-0.24],[2.16,0.09],[2.57,-0.02],[2.78,-0.18],[3.29,0.14],[3.6,-0.02],[3.97,0.09],[4.32,0.0],[4.63,-0.21],[4.84,-0.18],[0.31,-0.24],[0.93,-0.34],[-0.51,-0.34],[-0.1,-0.45],[0.41,-0.5],
[-0.5,-1.0],[-0.2,-0.7],[0.6,-1.0],[1.0,-0.3],[1.8,-0.5],[2.6,-0.3],[3.1,-1.0],[3.9,-0.6],[4.4,-0.4],[4.8,-0.7],[0.5,-1.6],[1.5,-1.3],[2.3,-1.1],[3.6,-1.6],[4.7,-1.8],[0.0,-1.55],[-0.4,-1.4],[2.9,-2.3],[1.9,-2.3],
[-0.41,-0.66],[0.21,-0.82],[0.62,-0.56],[1.13,-0.88],[1.54,-0.66],[1.95,-0.77],[2.47,-0.56],[2.88,-0.88],[3.29,-0.66],[3.7,-1.04],[4.22,-0.77],[4.63,-0.5],[4.94,-1.04],[-0.1,-1.2],[0.41,-1.14],[0.93,-1.36],[1.34,-1.2],[1.65,-1.52],[2.06,-1.3],[2.57,-1.57],[2.98,-1.25],[3.4,-1.52],[4.01,-1.3],[4.53,-1.52],[5.0,-1.47],[-0.31,-1.84],[0.21,-1.73],[0.82,-1.95],[1.54,-1.84],[2.16,-1.95],[2.67,-1.79],[3.29,-2.05],[3.81,-1.84],[4.42,-1.89],[-0.51,-2.29],[-0.1,-2.27],[0.31,-2.43],[0.82,-2.64],[1.13,-2.48],[1.34,-2.8],[1.85,-2.64],[2.37,-2.37],[2.78,-2.59],[3.29,-2.48],[3.7,-2.32],[4.01,-2.64],[4.53,-2.27],[4.94,-2.8],[0.93,-2.96],[1.44,-2.96],[1.65,-3.26],[2.16,-3.39],[3.4,-3.36],[3.91,-3.07],[4.22,-3.05],[4.32,-3.39],[4.53,-3.28]];

const unsup2 = [[-3.0,1.2],[-3.0,0.9],[-3.0,0.6],[-3.0,0.3],[-3.0,0.05],[-2.9,1.05],[-2.9,0.75],[-2.9,0.45],[-2.9,0.15],[-2.8,0.95],[-2.8,0.6],[-2.8,0.3],[-2.8,0.0],[-2.7,1.3],[-2.7,0.8],[-2.7,0.5],[-2.7,0.2],[-2.6,0.95],[-2.6,0.65],[-2.6,0.35],[-2.6,0.05],[-2.5,0.85],[-2.5,0.55],[-2.5,0.25],[-2.4,1.0],[-2.4,0.7],[-2.4,0.4],[-2.4,0.1],[-2.3,0.8],[-2.3,0.55],[-2.3,0.25],[-2.2,0.65],[-2.2,0.35],[-2.2,0.05],[-2.1,0.8],[-2.1,0.5],[-2.1,0.2],[-2.0,0.6],[-2.0,0.3],[-1.9,0.75],[-1.9,0.45],[-1.9,0.1],[-1.8,0.55],[-1.8,0.25],[-1.7,0.4],[-1.6,0.15],[-1.5,0.5],[-1.4,0.3],[-1.3,0.05],[-2.9,-0.1],[-2.6,-0.15],[-2.3,-0.1],[-2.0,-0.05],[-1.7,-0.2],[-1.5,-0.3],[-1.2,-0.15],
[-3.05,0.75],[-3.05,0.45],[-3.05,0.15],[-2.95,0.9],[-2.95,0.6],[-2.95,0.3],[-2.85,0.8],[-2.85,0.45],[-2.85,0.15],[-2.75,0.65],[-2.75,0.35],[-2.75,1.0],[-2.65,0.8],[-2.65,0.5],[-2.65,0.2],[-2.55,0.7],[-2.55,0.4],[-2.55,0.1],[-2.45,0.85],[-2.45,0.55],[-2.45,0.25],[-2.35,0.65],[-2.35,0.4],[-2.25,0.85],[-2.25,0.5],[-2.25,0.2],[-2.15,0.65],[-2.15,0.35],[-2.05,0.5],[-2.05,0.15],[-1.95,0.6],[-1.95,0.3],[-1.85,0.4],[-1.75,0.6],[-1.65,0.3],[-1.55,0.1],[-1.35,0.45],[-1.2,0.2],[-1.0,0.35],[-0.8,0.1],[-0.4,0.3],
[-2.41,1.48],[-1.28,1.4],[-0.62,1.44],[4.22,1.55],[1.46,1.05],[4.75,0.91],[0.06,0.78],[0.78,0.83],[1.71,0.57],[2.26,0.7],[3.56,0.35],[4.79,0.35],[3.87,0.62],[2.94,0.25],
[-0.97,0.14],[-0.56,-0.07],[-0.14,0.25],[0.27,-0.18],[0.58,0.25],[0.88,-0.29],[1.3,0.03],[1.6,-0.4],[1.91,-0.13],[2.33,0.14],[2.63,-0.29],[2.94,-0.07],[3.25,-0.4],[3.46,0.03],[3.77,-0.24],[4.07,-0.5],[4.38,-0.13],[4.69,-0.34],[4.96,-0.07],[-1.17,-0.29],[-0.76,-0.56],[-0.35,-0.45],[0.06,-0.66],[0.47,-0.5],[1.09,-0.72],[1.71,-0.61],[2.22,-0.82],[2.53,-0.61],[3.35,-0.82],[3.87,-0.66],[4.59,-0.72],[4.9,-0.56],[-1.58,-0.24],[-1.38,-0.61],
[0.1,0.0],[0.4,-0.3],[0.7,0.05],[1.1,-0.3],[1.5,0.25],[2.0,-0.45],[2.5,0.05],[2.8,-0.45],[3.1,0.0],[3.6,-0.45],[4.0,-0.1],[4.4,-0.5],[4.8,-0.3],[0.2,-0.9],[0.9,-1.0],[1.4,-0.9],[3.0,-1.0],[3.9,-1.0],[4.5,-1.1],[-0.6,-0.9],[2.4,-1.6],
[-0.04,-1.14],[0.68,-1.04],[1.3,-1.3],[1.81,-1.04],[2.33,-1.36],[2.74,-1.14],[3.15,-1.41],[3.66,-1.25],[4.28,-1.14],[4.69,-1.36],[5.0,-0.93],[-0.14,-1.79],[0.1,-1.95],[0.99,-1.57],[1.5,-1.79],[2.22,-2.11],[2.74,-1.95],[3.46,-1.79],[4.18,-1.73],[4.79,-1.89],[4.9,-1.86],[1.5,-2.88],[2.02,-2.41],[2.33,-3.05],[2.6,-2.41],[2.84,-2.27],[3.66,-2.64],[3.97,-2.7],[3.93,-3.34],[3.97,-2.86]];

const unsup3 = [[-3.0,1.85],[-2.95,1.5],[-2.95,1.2],[-2.95,0.9],[-2.95,0.6],[-2.95,0.3],[-2.85,1.6],[-2.85,1.3],[-2.85,1.0],[-2.85,0.7],[-2.85,0.4],[-2.85,0.1],[-2.75,1.45],[-2.75,1.15],[-2.75,0.85],[-2.75,0.55],[-2.75,0.25],[-2.65,1.5],[-2.65,1.25],[-2.65,0.95],[-2.65,0.65],[-2.65,0.35],[-2.55,1.35],[-2.55,1.05],[-2.55,0.75],[-2.55,0.45],[-2.55,0.15],[-2.45,1.2],[-2.45,0.9],[-2.45,0.6],[-2.45,0.3],[-2.35,1.4],[-2.35,1.05],[-2.35,0.75],[-2.35,0.45],[-2.25,1.25],[-2.25,0.95],[-2.25,0.6],[-2.25,0.2],[-2.15,1.1],[-2.15,0.8],[-2.15,0.5],[-2.05,1.3],[-2.05,0.95],[-2.05,0.35],[-1.95,1.05],[-1.95,0.65],[-1.85,1.2],[-1.85,0.8],[-1.85,0.3],[-1.75,0.95],[-1.75,0.55],[-1.65,0.7],[-1.55,1.0],[-1.55,0.4],[-1.45,0.75],[-1.35,0.55],[-1.25,0.9],[-1.15,0.6],[-1.05,1.15],[-2.9,-0.05],[-2.7,-0.1],[-2.5,-0.05],[-2.2,-0.1],[-1.9,-0.05],
[-3.0,1.55],[-3.0,1.25],[-3.0,0.95],[-3.0,0.65],[-3.0,0.35],[-2.9,1.7],[-2.9,1.4],[-2.9,1.1],[-2.9,0.8],[-2.9,0.5],[-2.9,0.2],[-2.8,1.55],[-2.8,1.2],[-2.8,0.9],[-2.8,0.6],[-2.8,0.3],[-2.7,1.35],[-2.7,1.05],[-2.7,0.75],[-2.7,0.45],[-2.6,1.4],[-2.6,1.15],[-2.6,0.85],[-2.6,0.55],[-2.5,1.25],[-2.5,0.95],[-2.5,0.65],[-2.5,0.35],[-2.4,1.05],[-2.4,0.8],[-2.4,0.5],[-2.3,1.2],[-2.3,0.9],[-2.3,0.6],[-2.2,1.0],[-2.2,0.7],[-2.2,0.4],[-2.1,1.2],[-2.1,0.85],[-2.0,1.05],[-2.0,0.6],[-1.9,0.85],[-1.8,1.0],[-1.7,0.75],[-1.6,0.55],[-1.4,0.9],[-1.2,0.7],[-1.0,0.85],[-0.8,0.5],[-0.5,0.75],
[1.01,2.76],[-2.96,1.93],[-2.0,1.82],[-1.21,1.64],[-1.1,1.68],[0.12,1.64],[2.24,1.67],[1.63,1.5],[4.34,1.35],[1.46,1.18],[2.24,0.96],[2.59,0.96],[1.15,0.91],[3.89,0.89],[4.75,0.99],[5.0,0.99],[-0.14,1.26],[0.23,1.1],[0.49,0.99],[-0.39,0.89],[-0.7,1.18],
[-1.01,0.51],[-0.6,0.62],[-0.29,0.41],[0.12,0.35],[0.43,0.46],[0.84,0.62],[1.15,0.3],[1.36,0.57],[1.67,0.41],[1.98,0.62],[2.28,0.35],[2.49,0.67],[2.8,0.46],[3.11,0.3],[3.42,0.41],[3.72,0.62],[4.03,0.35],[4.34,0.57],[4.65,0.41],[4.96,0.62],
[0.0,0.6],[0.6,0.45],[1.0,0.7],[1.9,0.45],[2.6,0.55],[3.5,0.55],[4.2,0.5],[4.8,0.3],[0.5,0.0],[1.5,0.0],[2.4,0.2],[3.2,-0.1],[4.1,0.0],[4.5,-0.35],[2.0,-0.35],[3.0,-0.4],[0.6,-0.3],[0.3,0.7],[1.3,0.3],[2.2,0.5],[3.0,0.5],[3.8,0.3],[4.5,0.2],[0.9,0.3],[1.8,0.1],[2.9,0.25],[4.4,0.35],
[-1.21,0.09],[-0.49,0.14],[-0.19,-0.02],[0.33,0.19],[0.84,0.09],[1.26,-0.02],[1.67,0.14],[1.98,-0.07],[2.28,0.09],[2.7,-0.02],[3.0,0.14],[3.31,0.03],[3.62,-0.07],[3.93,0.09],[4.34,-0.02],[4.65,0.03],[4.92,-0.13],[-2.65,-0.13],[-2.04,0.03],[-1.63,0.09],
[-1.21,-0.4],[-0.6,-0.32],[0.02,-0.29],[-0.08,-0.58],[0.95,-0.5],[1.36,-0.24],[1.46,-0.45],[1.67,-0.5],[2.08,-0.15],[2.18,-0.61],[2.59,-0.24],[2.8,-0.45],[3.11,-0.24],[3.31,-0.56],[3.62,-0.34],[3.72,-0.5],[4.03,-0.24],[4.24,-0.34],[4.55,-0.13],[4.75,-0.45],[4.96,-0.34],[4.86,-0.64],[-0.19,-0.77],[0.95,-0.66],[-0.19,-0.9],[-0.08,-0.98],[1.5,-1.04],[2.08,-0.88],[2.18,-0.98],[3.21,-0.82],[3.52,-0.93],[4.24,-0.77],[4.51,-1.01],[4.86,-0.72],[4.92,-1.11],[5.0,-1.25],[3.42,-1.09],[4.09,-1.52],[3.99,-1.57],[2.76,-1.81],[3.62,-1.63],[4.13,-2.7],[4.96,-3.42]];

const unsup4 = [[-2.95,1.95],[-2.95,1.5],[-2.95,1.2],[-2.95,0.9],[-2.95,0.55],[-2.85,1.7],[-2.85,1.35],[-2.85,1.05],[-2.85,0.75],[-2.85,0.4],[-2.75,1.55],[-2.75,1.2],[-2.75,0.9],[-2.75,0.6],[-2.65,1.45],[-2.65,1.1],[-2.65,0.8],[-2.65,0.45],[-2.55,1.6],[-2.55,1.3],[-2.55,1.0],[-2.55,0.7],[-2.45,1.45],[-2.45,1.15],[-2.45,0.85],[-2.45,0.5],[-2.35,1.3],[-2.35,1.0],[-2.35,0.65],[-2.25,1.5],[-2.25,1.2],[-2.25,0.9],[-2.25,0.55],[-2.15,1.35],[-2.15,1.05],[-2.15,0.75],[-2.05,1.2],[-2.05,0.9],[-2.05,0.6],[-1.95,1.3],[-1.95,1.0],[-1.95,0.7],[-1.85,1.15],[-1.85,0.85],[-1.75,1.25],[-1.75,0.95],[-1.75,0.6],[-1.65,1.05],[-1.55,1.3],[-1.55,0.8],[-1.45,1.0],[-1.35,0.7],[-1.25,1.15],[-1.15,0.85],[-1.05,1.4],[-0.95,0.95],[-0.85,1.1],[-2.9,0.2],[-2.6,0.25],[-2.3,0.3],[-2.0,0.25],[-1.7,0.3],
[-3.0,1.7],[-3.0,1.35],[-3.0,1.05],[-3.0,0.75],[-2.9,1.85],[-2.9,1.5],[-2.9,1.2],[-2.9,0.9],[-2.9,0.6],[-2.8,1.55],[-2.8,1.25],[-2.8,0.95],[-2.8,0.6],[-2.7,1.7],[-2.7,1.35],[-2.7,1.0],[-2.7,0.7],[-2.6,1.55],[-2.6,1.2],[-2.6,0.9],[-2.6,0.6],[-2.5,1.4],[-2.5,1.1],[-2.5,0.8],[-2.4,1.6],[-2.4,1.3],[-2.4,1.0],[-2.4,0.65],[-2.3,1.45],[-2.3,1.1],[-2.3,0.8],[-2.2,1.35],[-2.2,1.0],[-2.2,0.7],[-2.1,1.2],[-2.1,0.9],[-2.0,1.4],[-2.0,1.05],[-2.0,0.75],[-1.9,1.15],[-1.9,0.85],[-1.8,1.0],[-1.7,1.15],[-1.6,0.9],[-1.5,1.15],[-1.4,0.8],[-1.3,1.0],[-1.1,1.1],[-1.0,0.8],[-0.7,0.9],[-0.4,0.75],
[0.97,2.97],[-3.0,2.3],[-1.15,2.28],[-1.05,2.3],[2.24,2.28],[4.3,1.9],[-2.55,2.09],[-2.18,2.09],[-1.98,2.05],[0.08,1.76],[-0.88,1.85],[1.63,1.74],[1.42,1.44],[2.55,1.29],[4.92,1.4],[4.67,1.34],[2.04,1.26],[0.7,1.37],[0.29,1.32],[3.89,1.05],[4.92,1.12],
[-1.46,0.89],[-1.05,1.1],[-0.53,1.21],[-0.23,0.99],[0.08,0.89],[0.39,1.1],[0.6,0.78],[1.01,1.05],[1.21,0.83],[1.63,0.99],[1.83,0.73],[2.14,1.05],[2.45,0.83],[2.76,0.99],[2.96,0.67],[3.27,0.94],[3.58,0.73],[3.89,0.99],[4.2,0.78],[4.51,0.94],[4.81,0.73],
[0.3,0.7],[0.9,0.6],[1.5,0.75],[2.3,0.6],[3.1,0.75],[3.9,0.6],[4.6,0.6],[0.6,0.15],[1.3,0.1],[2.0,0.05],[2.9,0.1],[3.5,0.0],[4.3,0.05],[4.85,-0.1],
[-2.49,0.46],[-2.08,0.57],[-1.67,0.46],[-1.15,0.51],[-0.64,0.35],[-0.23,0.57],[0.08,0.46],[0.49,0.3],[0.8,0.57],[1.11,0.35],[1.42,0.51],[1.63,0.19],[1.93,0.35],[2.14,0.25],[2.45,0.46],[2.76,0.25],[3.07,0.41],[3.37,0.19],[3.68,0.46],[3.99,0.3],[4.2,0.14],[4.51,0.41],[4.81,0.25],[4.96,0.46],[-2.59,0.14],[-1.87,0.19],[-1.26,0.3],
[-2.63,-0.1],[-1.46,-0.15],[-1.26,-0.2],[-0.23,-0.24],[-0.16,-0.4],[-0.12,-0.7],[0.29,-0.13],[0.8,-0.1],[0.95,-0.72],[1.42,-0.61],[2.24,-0.93],[1.83,-0.13],[2.5,-0.05],[3.0,-0.1],[3.58,-0.13],[3.68,-0.48],[3.89,-0.56],[4.05,-0.29],[4.2,-0.45],[4.51,-0.31],[4.67,-0.5],[4.92,-0.56],[4.75,-0.24],[3.58,-1.39],[4.92,-1.47],[4.4,-2.05],[4.51,-0.61],[1.3,-0.55]];
const unsup4Band = [[0.0,1.0],[0.4,0.85],[0.7,1.0],[1.1,0.8],[1.4,0.95],[1.8,0.9],[2.2,0.8],[2.6,0.85],[3.0,0.55],[3.4,0.6],[3.8,0.85],[4.2,0.55],[4.7,0.9],[0.2,0.2],[1.0,0.2],[1.7,0.55],[2.5,0.65],[3.3,0.35],[4.0,0.5],[4.6,0.3],[-0.5,0.6],[-1.2,0.7],[-1.8,0.6],[-2.2,0.45],[2.0,-0.3]];

const unsup5 = [[-3.0,2.05],[-2.95,1.8],[-2.95,1.5],[-2.95,1.2],[-2.95,0.9],[-2.95,0.6],[-2.85,1.65],[-2.85,1.35],[-2.85,1.05],[-2.85,0.75],[-2.75,1.9],[-2.75,1.55],[-2.75,1.25],[-2.75,0.95],[-2.75,0.65],[-2.65,1.7],[-2.65,1.4],[-2.65,1.1],[-2.65,0.8],[-2.55,1.55],[-2.55,1.25],[-2.55,0.95],[-2.55,0.65],[-2.45,1.7],[-2.45,1.4],[-2.45,1.1],[-2.45,0.8],[-2.35,1.5],[-2.35,1.2],[-2.35,0.9],[-2.25,1.6],[-2.25,1.3],[-2.25,1.0],[-2.25,0.7],[-2.15,1.45],[-2.15,1.15],[-2.15,0.85],[-2.05,1.3],[-2.05,1.0],[-2.05,0.7],[-1.95,1.5],[-1.95,1.15],[-1.85,1.3],[-1.85,0.95],[-1.75,1.1],[-1.75,0.8],[-1.65,1.25],[-1.55,0.95],[-1.45,1.15],[-1.35,0.85],[-1.25,1.05],[-1.15,0.9],[-1.05,1.2],[-0.95,0.95],[-0.8,1.1],[-2.9,0.35],[-2.6,0.4],[-2.3,0.35],[-2.0,0.45],
[-3.0,1.9],[-3.0,1.6],[-3.0,1.3],[-3.0,1.0],[-3.0,0.7],[-2.9,1.95],[-2.9,1.65],[-2.9,1.35],[-2.9,1.05],[-2.9,0.75],[-2.8,1.8],[-2.8,1.5],[-2.8,1.2],[-2.8,0.9],[-2.7,1.75],[-2.7,1.45],[-2.7,1.15],[-2.7,0.85],[-2.6,1.6],[-2.6,1.3],[-2.6,1.0],[-2.6,0.7],[-2.5,1.75],[-2.5,1.45],[-2.5,1.15],[-2.5,0.85],[-2.4,1.55],[-2.4,1.25],[-2.4,0.95],[-2.3,1.65],[-2.3,1.35],[-2.3,1.05],[-2.3,0.75],[-2.2,1.5],[-2.2,1.2],[-2.2,0.9],[-2.1,1.35],[-2.1,1.05],[-2.0,1.55],[-2.0,1.2],[-2.0,0.85],[-1.9,1.3],[-1.8,1.15],[-1.7,1.35],[-1.6,1.05],[-1.5,1.25],[-1.4,0.95],[-1.2,1.2],[-1.0,1.05],[-0.7,1.15],[-0.4,0.85],
[-2.98,2.55],[-1.07,2.63],[-2.2,2.3],[-2.05,2.25],[-1.17,2.39],[0.99,2.26],[2.26,2.22],[1.65,2.04],[0.16,1.94],[4.28,1.96],[-1.65,1.76],[-1.4,1.7],[2.53,1.58],[1.5,1.39],[2.63,1.39],[4.9,1.53],[4.79,1.32],[1.98,1.05],[3.05,1.1],[4.38,1.05],[4.69,0.99],
[-0.25,0.99],[0.16,1.1],[0.47,0.94],[0.78,0.83],[1.09,0.99],[1.4,0.78],[1.71,0.94],[2.02,0.73],[2.33,0.89],[2.63,0.67],[2.94,0.83],[3.25,0.62],[3.56,0.83],[3.87,0.67],[4.18,0.78],[4.49,0.62],[4.79,0.83],[-2.72,0.78],[-1.89,0.62],[-1.38,0.67],[-0.86,0.73],[-0.66,0.57],[-0.25,0.51],[0.27,0.57],[0.58,0.41],[0.99,0.51],[1.3,0.35],[1.6,0.57],[1.91,0.41],[2.22,0.25],[2.53,0.46],[2.84,0.3],[3.15,0.46],[3.46,0.25],[3.77,0.41],[3.97,0.19],[4.28,0.46],[4.59,0.3],[4.9,0.46],[4.79,0.14],[-2.51,0.46],[-1.69,0.46],[-2.1,0.25],[-0.86,0.14],[-0.56,0.09],[0.99,0.14],
[0.2,0.8],[0.8,0.6],[1.3,0.6],[2.0,0.5],[2.8,0.5],[3.6,0.55],[4.4,0.45],[4.9,0.7],[0.5,0.25],[1.5,0.2],[2.4,0.15],[3.3,0.05],[4.1,-0.05],[4.7,0.05],
[-1.32,-0.27],[-0.56,-0.02],[0.06,0.0],[-0.21,-0.63],[0.95,-0.5],[1.71,0.02],[2.26,-0.34],[2.63,0.0],[3.52,-0.18],[3.66,-0.34],[3.97,-0.13],[4.28,-0.29],[4.53,-0.13],[4.79,0.02],[4.9,-0.24],[4.12,-0.59],[3.6,-0.96],[4.38,-1.07],[4.96,-0.88],[3.2,-0.1],[1.4,-0.2]];
const unsup5Band = [[0.0,0.7],[0.35,1.0],[0.7,0.7],[1.0,0.85],[1.2,0.45],[1.6,0.7],[1.9,0.85],[2.2,0.6],[2.5,0.75],[2.8,0.9],[3.1,0.65],[3.4,0.4],[3.7,0.7],[4.0,0.35],[4.3,0.65],[4.6,0.5],[4.85,0.35],[0.5,0.6],[1.5,0.45],[2.6,0.35],[3.5,0.25],[4.5,0.15],[-0.5,0.75],[-1.1,0.85],[-1.7,0.85]];

const unsup6 = [[-3.0,2.2],[-2.95,1.85],[-2.95,1.55],[-2.95,1.25],[-2.95,0.95],[-2.95,0.65],[-2.85,2.0],[-2.85,1.7],[-2.85,1.4],[-2.85,1.1],[-2.85,0.8],[-2.75,1.9],[-2.75,1.6],[-2.75,1.3],[-2.75,1.0],[-2.75,0.7],[-2.65,2.05],[-2.65,1.75],[-2.65,1.45],[-2.65,1.15],[-2.65,0.85],[-2.55,1.9],[-2.55,1.6],[-2.55,1.3],[-2.55,1.0],[-2.55,0.7],[-2.45,1.75],[-2.45,1.45],[-2.45,1.15],[-2.45,0.85],[-2.35,1.95],[-2.35,1.6],[-2.35,1.3],[-2.35,1.0],[-2.25,1.8],[-2.25,1.5],[-2.25,1.2],[-2.25,0.9],[-2.15,1.65],[-2.15,1.35],[-2.15,1.05],[-2.05,1.8],[-2.05,1.5],[-2.05,1.2],[-2.05,0.85],[-1.95,1.6],[-1.95,1.3],[-1.85,1.45],[-1.85,1.1],[-1.75,1.65],[-1.75,1.25],[-1.65,1.4],[-1.65,1.0],[-1.55,1.55],[-1.55,1.2],[-1.45,1.35],[-1.35,1.1],[-1.25,1.4],[-1.15,1.2],[-1.05,1.0],[-0.95,1.3],[-0.8,1.1],[-0.6,1.25],[-2.9,0.45],[-2.6,0.5],[-2.3,0.55],[-2.0,0.6],[-1.7,0.7],
[-3.0,2.0],[-3.0,1.7],[-3.0,1.4],[-3.0,1.1],[-3.0,0.8],[-2.9,2.1],[-2.9,1.8],[-2.9,1.5],[-2.9,1.2],[-2.9,0.9],[-2.8,1.95],[-2.8,1.55],[-2.8,1.25],[-2.8,0.95],[-2.8,0.65],[-2.7,2.0],[-2.7,1.7],[-2.7,1.4],[-2.7,1.1],[-2.7,0.8],[-2.6,1.85],[-2.6,1.55],[-2.6,1.25],[-2.6,0.95],[-2.5,1.8],[-2.5,1.45],[-2.5,1.15],[-2.5,0.85],[-2.4,1.9],[-2.4,1.6],[-2.4,1.25],[-2.4,0.95],[-2.3,1.75],[-2.3,1.45],[-2.3,1.15],[-2.3,0.8],[-2.2,1.6],[-2.2,1.3],[-2.2,1.0],[-2.1,1.75],[-2.1,1.45],[-2.1,1.1],[-2.0,1.35],[-2.0,1.0],[-1.9,1.5],[-1.9,1.15],[-1.8,1.3],[-1.7,1.5],[-1.6,1.2],[-1.5,1.4],[-1.4,1.0],[-1.2,1.3],[-1.0,1.15],[-0.7,1.35],[-0.4,1.2],[0.1,1.2],
[-3.0,2.63],[0.99,2.46],[2.22,2.3],[4.28,2.19],[-2.96,2.17],[-2.45,2.28],[-1.15,2.3],[-1.2,2.02],[0.12,1.93],[1.6,1.96],[1.4,1.72],[2.18,1.55],[2.49,1.53],[4.86,1.69],[4.4,1.34],[4.9,1.48],[3.11,1.29],[3.9,1.26],
[-0.23,-0.24],[-0.14,-0.45],[0.91,-0.5],[2.49,-0.18],[3.58,-0.63],[3.68,-0.48],[4.14,-0.4],[4.44,-0.24],[4.7,-0.2],[4.92,-0.34],
[-1.5,0.8],[-1.3,0.5],[-1.0,0.85],[-0.8,0.6],[-0.6,0.95],[-0.4,0.7],[-0.2,1.05],[0.0,0.55],[0.2,0.85],[0.4,1.1],[0.5,0.6],[0.7,0.9],[0.9,0.45],[1.0,0.75],[1.2,1.0],[1.3,0.55],[1.5,0.8],[1.6,0.35],[1.8,0.65],[1.9,0.95],[2.1,0.45],[2.2,0.75],[2.4,0.3],[2.5,0.6],[2.6,0.9],[2.8,0.4],[2.9,0.7],[3.0,0.2],[3.2,0.55],[3.3,0.85],[3.4,0.3],[3.5,0.6],[3.7,0.1],[3.8,0.45],[3.9,0.75],[4.0,0.25],[4.1,0.55],[4.2,0.0],[4.3,0.35],[4.4,0.7],[4.5,0.15],[4.6,0.45],[4.7,-0.05],[4.8,0.3],[4.9,0.6],[5.0,0.1],[4.95,0.4],[-2.2,0.3],[-1.8,0.4],[-0.9,0.3],[-0.3,0.35],[0.6,0.25],[1.4,0.15],[2.0,0.2],[2.7,0.05],[3.6,-0.05],[4.35,-0.15],[-1.2,0.15],[0.3,0.1],[1.1,0.1],[-0.5,0.15],[3.05,-0.1],[2.3,-0.05],
[0.7,0.6],[1.7,0.55],[2.7,0.55],[3.6,0.4],[4.3,0.5],[4.8,0.45],[3.9,0.05],[4.55,-0.1],[2.9,0.0]];
const unsup6Band = [[-0.6,0.6],[-0.1,0.9],[0.3,0.45],[0.8,0.75],[1.1,0.4],[1.4,0.95],[1.7,0.3],[2.0,0.55],[2.3,0.9],[2.7,0.75],[3.1,0.4],[3.35,0.6],[3.6,0.25],[3.85,0.6],[4.05,0.1],[4.25,0.4],[4.45,0.0],[4.65,0.25],[4.85,0.05],[5.0,0.3],[-1.6,0.6],[-2.0,0.5],[0.9,0.2],[2.5,0.2],[4.0,-0.2]];

const unsup7 = [[-3.0,2.15],[-2.95,1.85],[-2.95,1.55],[-2.95,1.25],[-2.95,0.95],[-2.95,0.65],[-2.85,2.0],[-2.85,1.7],[-2.85,1.4],[-2.85,1.1],[-2.85,0.8],[-2.75,1.9],[-2.75,1.6],[-2.75,1.3],[-2.75,1.0],[-2.75,0.7],[-2.65,2.05],[-2.65,1.75],[-2.65,1.45],[-2.65,1.15],[-2.65,0.85],[-2.55,1.9],[-2.55,1.6],[-2.55,1.3],[-2.55,1.0],[-2.55,0.7],[-2.45,1.75],[-2.45,1.45],[-2.45,1.15],[-2.45,0.85],[-2.35,1.95],[-2.35,1.6],[-2.35,1.3],[-2.35,1.0],[-2.25,1.8],[-2.25,1.5],[-2.25,1.2],[-2.25,0.9],[-2.15,1.65],[-2.15,1.35],[-2.15,1.05],[-2.05,1.8],[-2.05,1.5],[-2.05,1.2],[-2.05,0.85],[-1.95,1.6],[-1.95,1.3],[-1.85,1.45],[-1.85,1.1],[-1.75,1.65],[-1.75,1.25],[-1.65,1.4],[-1.65,1.0],[-1.55,1.55],[-1.55,1.2],[-1.45,1.35],[-1.35,1.1],[-1.25,1.4],[-1.15,1.2],[-1.05,1.0],[-0.95,1.3],[-0.8,1.1],[-0.6,1.25],[-2.9,0.45],[-2.6,0.5],[-2.3,0.55],[-2.0,0.6],[-1.7,0.7],
[-3.0,2.0],[-3.0,1.7],[-3.0,1.4],[-3.0,1.1],[-3.0,0.8],[-2.9,2.15],[-2.9,1.8],[-2.9,1.5],[-2.9,1.2],[-2.9,0.9],[-2.8,1.95],[-2.8,1.6],[-2.8,1.3],[-2.8,1.0],[-2.8,0.65],[-2.7,2.1],[-2.7,1.75],[-2.7,1.45],[-2.7,1.1],[-2.7,0.8],[-2.6,1.85],[-2.6,1.55],[-2.6,1.25],[-2.6,0.95],[-2.5,2.0],[-2.5,1.7],[-2.5,1.4],[-2.5,1.1],[-2.5,0.8],[-2.4,1.85],[-2.4,1.55],[-2.4,1.2],[-2.4,0.9],[-2.3,1.7],[-2.3,1.4],[-2.3,1.1],[-2.3,0.75],[-2.2,1.95],[-2.2,1.6],[-2.2,1.25],[-2.2,0.95],[-2.1,1.45],[-2.1,1.1],[-2.0,1.7],[-2.0,1.35],[-2.0,1.0],[-1.9,1.55],[-1.8,1.35],[-1.7,1.55],[-1.6,1.15],[-1.5,1.45],[-1.4,1.2],[-1.2,1.05],[-1.0,1.25],[-0.7,0.95],[-0.3,1.3],
[-3.0,2.68],[-1.19,2.65],[-1.09,2.55],[2.2,2.3],[4.24,2.22],[0.95,2.09],[1.56,1.98],[0.08,1.87],[4.86,1.87],[-2.39,2.36],[-2.1,2.28],[-0.74,2.01],[2.24,1.58],[4.51,1.61],[4.81,1.53],[2.96,1.29],[3.15,1.29],[3.89,1.37],
[-0.23,-0.13],[-0.13,-0.02],[0.91,-0.34],[3.17,-0.07],[3.48,-0.24],[3.58,-0.59],[3.64,-0.66],[3.89,-0.34],[4.3,-0.5],[4.51,-0.34],[4.92,0.0],
[-1.4,0.9],[-1.2,0.6],[-1.0,1.0],[-0.8,0.75],[-0.6,0.45],[-0.4,0.85],[-0.2,0.6],[0.0,1.0],[0.2,0.4],[0.3,0.75],[0.5,1.05],[0.7,0.55],[0.8,0.85],[1.0,0.3],[1.1,0.65],[1.3,0.95],[1.4,0.45],[1.6,0.75],[1.7,0.2],[1.9,0.55],[2.0,0.85],[2.1,0.3],[2.3,0.65],[2.4,1.0],[2.5,0.15],[2.6,0.5],[2.8,0.8],[2.9,0.3],[3.0,0.6],[3.1,-0.05],[3.3,0.4],[3.4,0.75],[3.5,0.1],[3.6,0.5],[3.7,-0.3],[3.8,0.25],[3.9,0.65],[4.0,0.0],[4.1,0.4],[4.2,0.8],[4.3,0.15],[4.4,-0.2],[4.5,0.5],[4.6,0.0],[4.7,0.3],[4.8,0.65],[4.9,-0.05],[5.0,0.35],[4.95,0.75],[-2.0,0.4],[-1.6,0.35],[-0.9,0.3],[-0.3,0.25],[0.4,0.15],[1.2,0.1],[1.85,0.05],[2.7,0.05],[3.35,-0.1],[4.25,-0.3],[4.75,-0.15],[-1.3,0.2],[0.1,0.1],[0.9,0.0],[2.2,0.95],[3.15,0.95],
[0.5,0.65],[1.5,0.5],[2.5,0.7],[3.6,0.8],[4.4,0.6],[4.9,0.5],[3.8,-0.15],[4.5,-0.4],[4.2,0.45]];
const unsup7Band = [[-0.7,0.7],[-0.1,0.8],[0.25,0.55],[0.6,0.9],[1.05,0.5],[1.35,0.75],[1.65,0.45],[1.95,0.75],[2.25,0.4],[2.55,0.85],[2.85,0.45],[3.2,0.6],[3.45,0.35],[3.75,0.55],[4.05,0.25],[4.25,0.6],[4.5,0.2],[4.7,0.55],[4.85,0.15],[5.0,0.55],[-1.7,0.5],[-2.1,0.45],[1.0,0.15],[2.4,0.25],[3.95,-0.3]];

const rows = [
  { top: 61.7, means: meanSemi,
    sets: [semi1, semi2, semi3, semi4.concat(semi4Band), semi5.concat(semi5Band), semi6.concat(semi6Band), semi7.concat(semi7Band)],
    caption: ["(a) Semi-supervised ", "RemixIT", " with initial teacher pre-trained on WHAM! in a supervised way."], capY: 352 },
  { top: 400.7, means: meanUnsup,
    sets: [unsup1, unsup2, unsup3, unsup4.concat(unsup4Band), unsup5.concat(unsup5Band), unsup6.concat(unsup6Band), unsup7.concat(unsup7Band)],
    caption: ["(b) Unsupervised ", "RemixIT", " with initial teacher pre-trained on LFSD using MixIT."], capY: 689 }
];

const panelW = 141.3, panelH = 202.6, left0 = 67.2, pitch = 170.6;

const svg = d3.select("#chart").append("svg")
  .attr("width", 1237)
  .attr("height", 693);

svg.append("defs").append("clipPath").attr("id", "pclip")
  .append("rect").attr("width", panelW).attr("height", panelH);

const x = d3.scaleLinear().domain([-3.36, 5.36]).range([0, panelW]);
const y = d3.scaleLinear().domain([-3.5, 3.0]).range([panelH, 0]);

// main title
const title = svg.append("text")
  .attr("x", 619).attr("y", 25)
  .attr("text-anchor", "middle")
  .style("font-size", "25.5px");
title.append("tspan").text("Emprical mean student SNR performance improvement with ");
title.append("tspan").style("font-style", "italic").text("B");
title.append("tspan").text(" bootstrapped mixtures");

function styleAxis(sel, labels) {
  sel.select(".domain").remove();
  sel.selectAll(".tick line").attr("stroke", "#000").attr("stroke-width", 0.8);
  sel.selectAll(".tick text").style("font-size", labels ? "18px" : "0px");
}

// rotated y label, laid out piece by piece then stretched to the reference length
function yLabel(cx, cy, len) {
  const g = svg.append("g");
  const inner = g.append("g");
  let pos = 0;
  const put = (str, o = {}) => {
    const t = inner.append("text")
      .attr("x", pos + (o.dx || 0))
      .attr("y", o.dy || 0)
      .style("font-size", (o.size || 19) + "px")
      .style("font-style", o.it ? "italic" : "normal")
      .text(str);
    const w = t.node().getComputedTextLength();
    if (!o.stay) pos += w + (o.dx || 0);
    return t;
  };
  put("SNR");
  put("(", { size: 24, dy: 1.5 });
  const fx = pos + 1;
  inner.append("text").attr("x", fx + 4.5).attr("y", -8).attr("text-anchor", "middle")
    .style("font-size", "12px").text("1");
  inner.append("text").attr("x", fx + 4.5).attr("y", 7).attr("text-anchor", "middle")
    .style("font-size", "12px").style("font-style", "italic").text("B");
  inner.append("line").attr("x1", fx).attr("x2", fx + 9).attr("y1", -5).attr("y2", -5)
    .attr("stroke", "#000").attr("stroke-width", 0.7);
  pos = fx + 11;
  put("∑", { size: 22, dy: 1 });
  put("B", { size: 13, it: true, dy: -9, stay: true });
  put("b", { size: 13, it: true, dy: 5 });
  put("=1", { size: 13, dy: 5 });
  put("s\u0302", { it: true, dx: 3 });
  put("b", { size: 13, it: true, dy: 5 });
  put(", ");
  put("s", { it: true });
  put(")", { size: 24, dy: 1.5 });
  put(" \u2212 SNR");
  put("(", { size: 24, dy: 1.5 });
  put("s\u0303", { it: true });
  put(", ");
  put("s", { it: true });
  put(")", { size: 24, dy: 1.5 });
  put(" (dB)");
  const k = len / pos;
  inner.attr("transform", `scale(${k})`);
  g.attr("transform", `translate(${cx},${cy}) rotate(-90) translate(${-len / 2},0)`);
}

rows.forEach(row => {
  bValues.forEach((b, i) => {
    const g = svg.append("g")
      .attr("transform", `translate(${left0 + i * pitch},${row.top})`);

    g.selectAll(".grid").data(yMajor).enter().append("line")
      .attr("class", "grid")
      .attr("x1", 0).attr("x2", panelW)
      .attr("y1", d => y(d)).attr("y2", d => y(d))
      .attr("stroke", "#b8b8b8").attr("stroke-width", 1);

    g.append("g").attr("clip-path", "url(#pclip)")
      .selectAll("circle").data(row.sets[i]).enter().append("circle")
      .attr("cx", d => x(d[0]))
      .attr("cy", d => y(d[1]))
      .attr("r", 2.3)
      .attr("fill", "#0000ff")
      .attr("fill-opacity", 0.55);

    g.append("line")
      .attr("x1", x(lineSpan[0])).attr("x2", x(lineSpan[1]))
      .attr("y1", y(row.means[i])).attr("y2", y(row.means[i]))
      .attr("stroke", "#ffa500").attr("stroke-width", 4.5);

    g.append("rect").attr("width", panelW).attr("height", panelH)
      .attr("fill", "none").attr("stroke", "#000").attr("stroke-width", 1);

    // ticks, all inward
    g.append("g").attr("transform", `translate(0,${panelH})`)
      .call(d3.axisBottom(x).tickValues(xMajor).tickSize(-4).tickPadding(5).tickFormat(d3.format("d")))
      .call(s => styleAxis(s, true));
    g.append("g").attr("transform", `translate(0,${panelH})`)
      .call(d3.axisBottom(x).tickValues(xMinor).tickSize(-2.5).tickFormat(""))
      .call(s => styleAxis(s, false));
    g.append("g")
      .call(d3.axisTop(x).tickValues(xMajor).tickSize(-4).tickFormat(""))
      .call(s => styleAxis(s, false));
    g.append("g")
      .call(d3.axisTop(x).tickValues(xMinor).tickSize(-2.5).tickFormat(""))
      .call(s => styleAxis(s, false));
    g.append("g")
      .call(d3.axisLeft(y).tickValues(yMajor).tickSize(-4).tickPadding(5.5)
        .tickFormat(i === 0 ? d3.format("d") : ""))
      .call(s => styleAxis(s, i === 0));
    g.append("g")
      .call(d3.axisLeft(y).tickValues(yMinor).tickSize(-2.5).tickFormat(""))
      .call(s => styleAxis(s, false));
    g.append("g").attr("transform", `translate(${panelW},0)`)
      .call(d3.axisRight(y).tickValues(yMajor).tickSize(-4).tickFormat(""))
      .call(s => styleAxis(s, false));
    g.append("g").attr("transform", `translate(${panelW},0)`)
      .call(d3.axisRight(y).tickValues(yMinor).tickSize(-2.5).tickFormat(""))
      .call(s => styleAxis(s, false));

    g.append("text")
      .attr("x", panelW / 2).attr("y", -8.5)
      .attr("text-anchor", "middle")
      .style("font-size", "19px")
      .text(`B = ${b}`);

    const xl = g.append("text")
      .attr("x", panelW / 2).attr("y", panelH + 42.5)
      .attr("text-anchor", "middle")
      .style("font-size", "18.8px");
    xl.append("tspan").text("Teacher SNR(");
    xl.append("tspan").style("font-style", "italic").text("s\u0303");
    xl.append("tspan").text(", ");
    xl.append("tspan").style("font-style", "italic").text("s");
    xl.append("tspan").text(")");
  });

  yLabel(33, row.top + panelH / 2, 273);

  const cap = svg.append("text")
    .attr("x", 619).attr("y", row.capY)
    .attr("text-anchor", "middle")
    .style("font-size", "24.5px");
  cap.append("tspan").text(row.caption[0]);
  cap.append("tspan").style("font-style", "italic").text(row.caption[1]);
  cap.append("tspan").text(row.caption[2]);
});
</script>
</body>
</html>
